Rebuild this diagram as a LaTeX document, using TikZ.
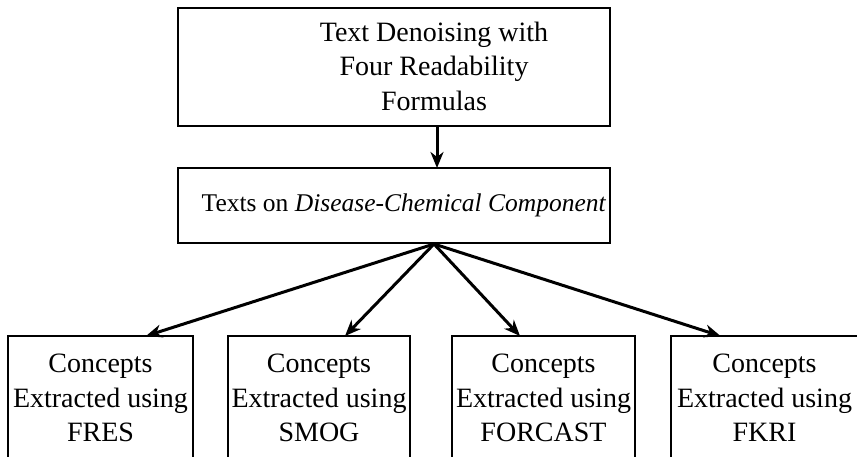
\documentclass[tikz,border=0pt]{standalone}
\usepackage{fontspec}
\setmainfont{Liberation Serif}
\usetikzlibrary{arrows.meta}
\tikzset{
  box/.style={draw,line width=1.4pt,inner sep=0pt,outer sep=0pt},
  txt/.style={align=center,inner sep=0pt,font=\fontsize{28}{34.5}\selectfont},
  link/.style={->,line width=3pt},
}
\begin{document}
\begin{tikzpicture}[x=1pt,y=-1pt,>={Stealth[length=16pt,width=13pt,inset=5pt]}]
            \useasboundingbox (0,0) rectangle (857,457);
            % top and middle boxes
            \node[box,minimum width=432pt,minimum height=118pt] (denoise) at (394,67) {};
            \node[txt] (denoisetxt) at (434,66) {Text Denoising with\\Four Readability\\Formulas};
            \node[box,minimum width=432pt,minimum height=75pt] (texts) at (394,205.5) {};
            \node[txt,font=\fontsize{25.5}{30}\selectfont] (textstxt) at (404,205) {Texts on \textit{Disease-Chemical Component}};
            % the four concept boxes
            \node[box,txt,minimum width=185pt,minimum height=124pt] (fres) at (100.5,398) {Concepts\\Extracted using\\FRES};
            \node[box,txt,minimum width=182pt,minimum height=124pt] (smog) at (319,398) {Concepts\\Extracted using\\SMOG};
            \node[box,txt,minimum width=183pt,minimum height=124pt] (forcast) at (543.5,398) {Concepts\\Extracted using\\FORCAST};
            \node[box,txt,minimum width=187pt,minimum height=124pt] (fkri) at (764.5,398) {Concepts\\Extracted using\\FKRI};
            % arrows
            \coordinate (fan) at ([xshift=40pt,yshift=-1pt]texts.south);
            \draw[link] ([xshift=43pt]denoise.south) -- ([xshift=43pt]texts.north);
            \draw[link] (fan) -- ([xshift=45.5pt]fres.north);
            \draw[link] (fan) -- ([xshift=26pt]smog.north);
            \draw[link] (fan) -- ([xshift=-23.5pt]forcast.north);
            \draw[link] (fan) -- ([xshift=-44pt]fkri.north);
        \end{tikzpicture}
\end{document}
